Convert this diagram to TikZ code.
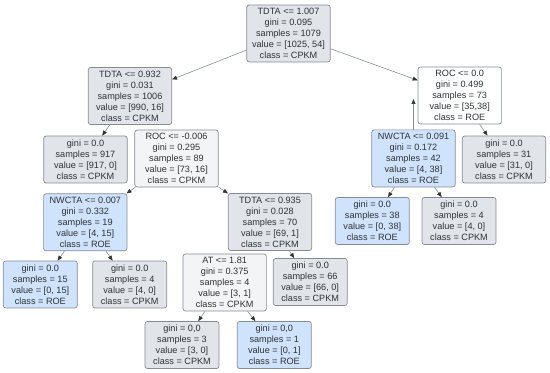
\documentclass[tikz,border=0pt]{standalone}
\usepackage{fontspec}
\setmainfont{Liberation Sans}
\usepackage{xcolor}
\definecolor{dtGray}{HTML}{E1E4E9}
\definecolor{dtBlue}{HTML}{CFE3FD}
\definecolor{dtPale}{HTML}{F3F4F6}
\definecolor{dtEdge}{HTML}{858C96}
\definecolor{dtText}{HTML}{2F3336}
\usetikzlibrary{arrows.meta}

\begin{document}
\begin{tikzpicture}[x=0.03cm, y=-0.03cm,
  box/.style={draw=dtEdge, line width=0.6pt, rounded corners=2pt, fill=dtGray, align=center, inner sep=0pt, text=dtText, font=\fontsize{7.8}{9.35}\selectfont, minimum width=2.5cm, minimum height=1.71cm},
  leaf/.style={box, minimum width=2.22cm, minimum height=1.41cm},
  roe/.style={fill=dtBlue},
  mix/.style={fill=dtPale},
  link/.style={draw=dtEdge, line width=0.5pt, -{Triangle[length=1.5mm, width=1.2mm, color=dtText]}}
]
  \useasboundingbox (0,0) rectangle (550,373);

  \node[box] (tdta1) at (288.5,33.5) {TDTA <= 1.007\\gini = 0.095\\samples = 1079\\value = [1025, 54]\\class = CPKM};
  \node[box] (tdta2) at (130,96) {TDTA <= 0.932\\gini = 0.031\\samples = 1006\\value = [990, 16]\\class = CPKM};
  \node[box, fill=white] (roc2) at (459.7,95.5) {ROC <= 0.0\\gini = 0.499\\samples = 73\\value = [35,38]\\class = ROE};
  \node[leaf, minimum width=2.5cm] (leaf917) at (85.5,159.5) {gini = 0.0\\samples = 917\\value = [917, 0]\\class = CPKM};
  \node[box, mix] (roc1) at (176.5,158.5) {ROC <= -0.006\\gini = 0.295\\samples = 89\\value = [73, 16]\\class = CPKM};
  \node[box, roe] (nwcta2) at (413.5,158.4) {NWCTA <= 0.091\\gini = 0.172\\samples = 42\\value = [4, 38]\\class = ROE};
  \node[leaf, minimum width=2.5cm] (leaf31) at (504,159.5) {gini = 0.0\\samples = 31\\value = [31, 0]\\class = CPKM};
  \node[box, roe] (nwcta1) at (85.3,222.3) {NWCTA <= 0.007\\gini = 0.332\\samples = 19\\value = [4, 15]\\class = ROE};
  \node[box] (tdta3) at (270,222) {TDTA <= 0.935\\gini = 0.028\\samples = 70\\value = [69, 1]\\class = CPKM};
  \node[leaf, roe] (leaf38) at (372.3,221) {gini = 0.0\\samples = 38\\value = [0, 38]\\class = ROE};
  \node[leaf] (leaf4b) at (459,221) {gini = 0.0\\samples = 4\\value = [4, 0]\\class = CPKM};
  \node[leaf, roe] (leaf15) at (40.3,284.5) {gini = 0.0\\samples = 15\\value = [0, 15]\\class = ROE};
  \node[leaf] (leaf4a) at (129.7,284.5) {gini = 0.0\\samples = 4\\value = [4, 0]\\class = CPKM};
  \node[box, mix] (at1) at (224.7,282.5) {AT <= 1.81\\gini = 0.375\\samples = 4\\value = [3, 1]\\class = CPKM};
  \node[leaf] (leaf66) at (310.2,282) {gini = 0.0\\samples = 66\\value = [66, 0]\\class = CPKM};
  \node[leaf] (leaf3) at (182,345) {gini = 0,0\\samples = 3\\value = [3, 0]\\class = CPKM};
  \node[leaf, roe] (leaf1) at (274.3,345) {gini = 0,0\\samples = 1\\value = [0, 1]\\class = ROE};
  \coordinate (rocIn) at (413.5,99);

  \draw[link] (tdta1) -- (tdta2);
  \draw[link] (tdta1) -- (roc2);
  \draw[link] (tdta2) -- (leaf917);
  \draw[link] (roc2) -- (leaf31);
  \draw[link] (nwcta2) -- (rocIn);
  \draw[link] (nwcta2) -- (leaf38);
  \draw[link] (nwcta2) -- (leaf4b);
  \draw[link] (roc1) -- (nwcta1);
  \draw[link] (roc1) -- (tdta3);
  \draw[link] (nwcta1) -- (leaf15);
  \draw[link] (nwcta1) -- (leaf4a);
  \draw[link] (tdta3) -- (leaf66);
  \draw[link] (at1) -- (leaf3);
  \draw[link] (at1) -- (leaf1);
\end{tikzpicture}
\end{document}
